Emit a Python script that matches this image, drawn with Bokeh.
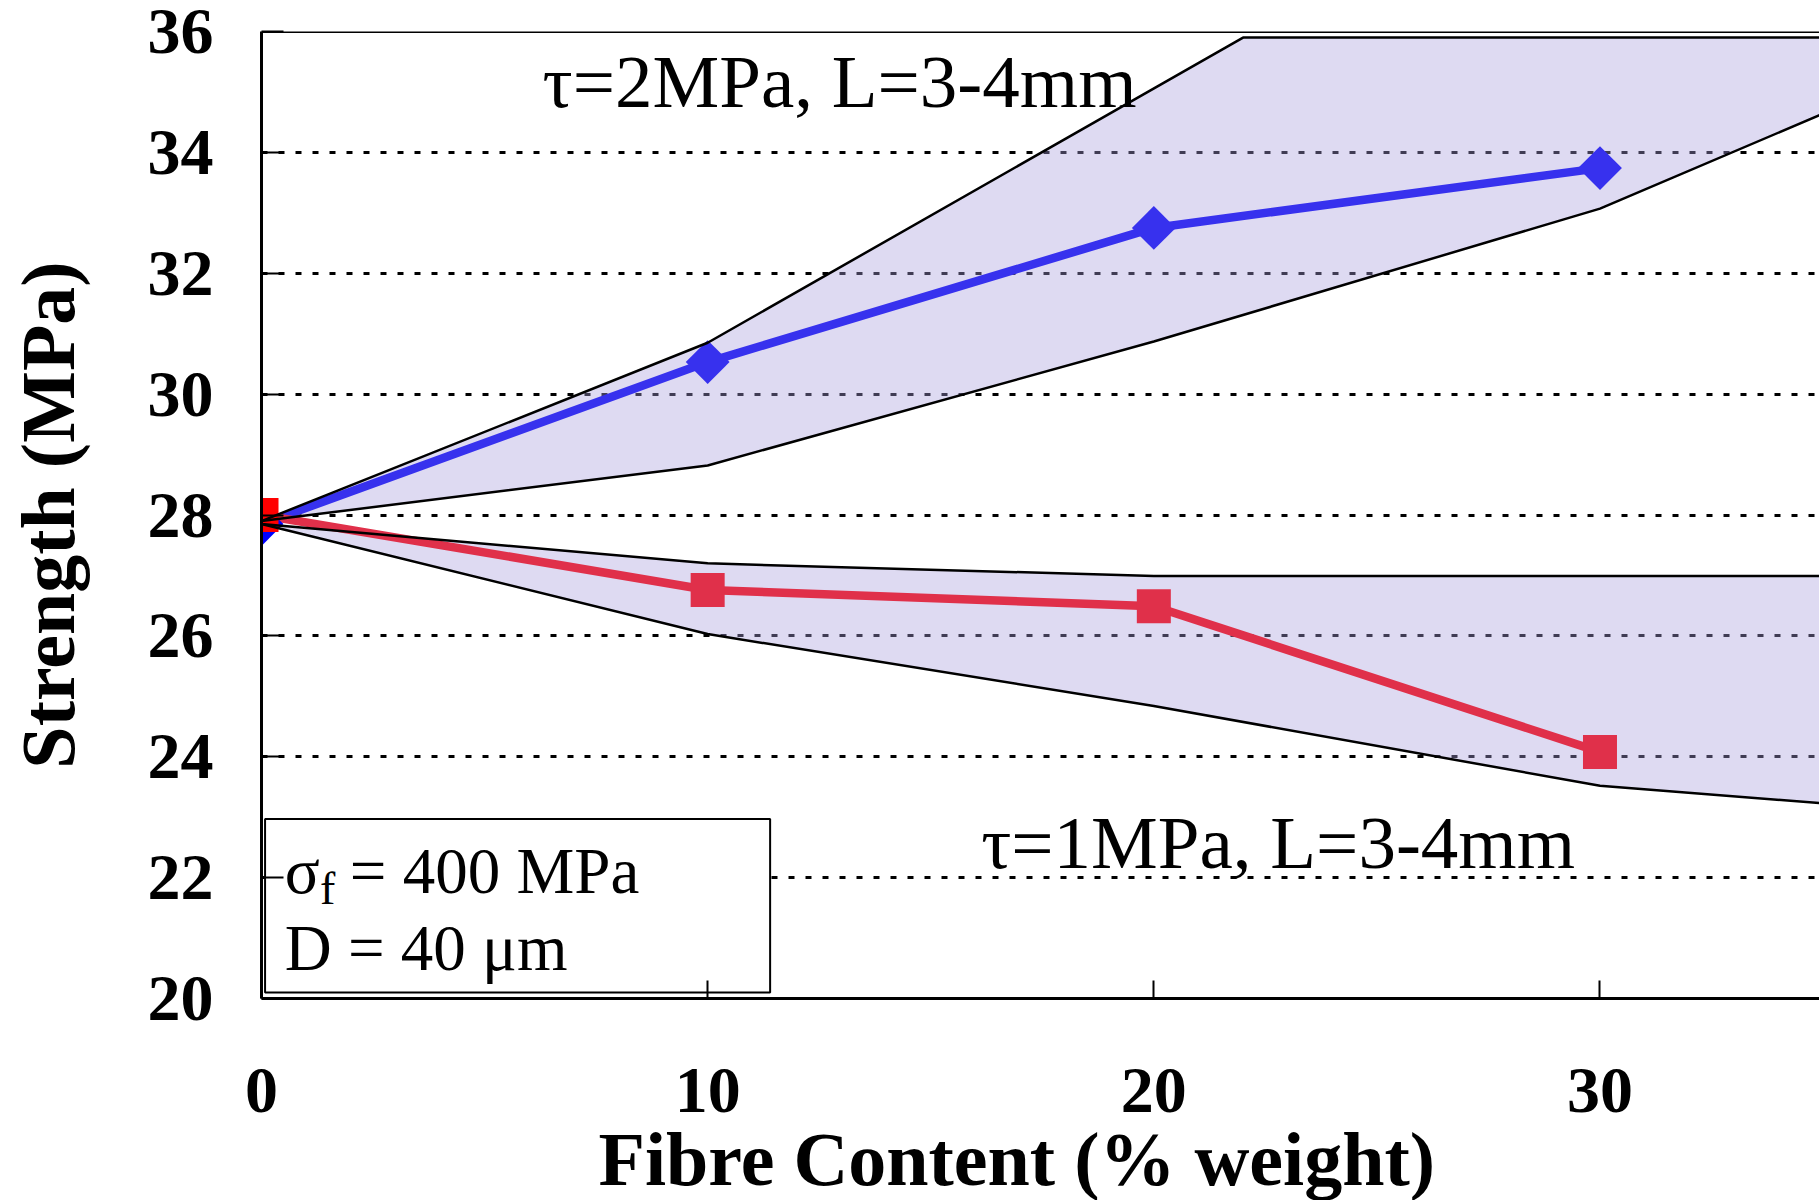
import math
from bokeh.plotting import figure
from bokeh.models import Range1d, FixedTicker, Span, Title
from bokeh.core.properties import value
from bokeh.embed import file_html
from bokeh.resources import INLINE

# ---------------- data ----------------
fibre = [0, 10, 20, 30]
strength_tau2 = [27.85, 30.53, 32.75, 33.74]
strength_tau1 = [28.0, 26.76, 26.49, 24.08]

band2_upper_x = [0, 10, 22, 35]
band2_upper_y = [27.9, 30.85, 35.9, 35.9]
band2_lower_x = [0, 10, 20, 30, 35]
band2_lower_y = [27.9, 28.82, 30.87, 33.07, 34.64]

band1_upper_x = [0, 10, 20, 35]
band1_upper_y = [27.85, 27.2, 26.99, 26.99]
band1_lower_x = [0, 10, 20, 30, 35]
band1_lower_y = [27.85, 26.03, 24.84, 23.52, 23.23]

y_ticks = [20, 22, 24, 26, 28, 30, 32, 34, 36]
x_ticks = [0, 10, 20, 30]

label_tau2 = "τ=2MPa, L=3-4mm"
label_tau1 = "τ=1MPa, L=3-4mm"
x_title = "Fibre Content (% weight)"
y_title = "Strength (MPa)"

SERIF = "Liberation Serif"
BLUE = "#3731EE"
RED = "#E0304A"

p = figure(width=1819, height=1200, output_backend="svg", toolbar_location=None,
           x_range=Range1d(0, 34.92), y_range=Range1d(20, 36),
           min_border_left=261, min_border_right=0, min_border_top=31,
           min_border_bottom=198)
p.outline_line_color = None
p.background_fill_color = "white"
p.border_fill_color = "white"

# grid
p.xgrid.visible = False
p.ygrid.ticker = FixedTicker(ticks=y_ticks)
p.ygrid.grid_line_color = "black"
p.ygrid.grid_line_width = 3
p.ygrid.grid_line_dash = "6 11"

# axes
for ax in (p.xaxis[0], p.yaxis[0]):
    ax.axis_line_width = 3
    ax.axis_line_color = "black"
    ax.major_tick_out = 0
    ax.minor_tick_line_color = None
    ax.major_tick_line_width = 2
    ax.major_label_text_font = SERIF
    ax.major_label_text_font_style = "bold"
    ax.major_label_text_font_size = "66px"
    ax.major_label_text_color = "black"
p.xaxis.ticker = FixedTicker(ticks=x_ticks)
p.yaxis.ticker = FixedTicker(ticks=y_ticks)
p.xaxis.major_tick_in = 18
p.yaxis.major_tick_in = 22
p.xaxis.major_label_standoff = 70
p.yaxis.major_label_standoff = 48

p.yaxis.axis_label = y_title
p.yaxis.axis_label_text_font = SERIF
p.yaxis.axis_label_text_font_style = "bold"
p.yaxis.axis_label_text_font_size = "76px"
p.yaxis.axis_label_text_color = "black"
p.yaxis.axis_label_standoff = 55

p.add_layout(Title(text=x_title, align="left", offset=337, text_font=SERIF,
                   text_font_style="bold", text_font_size="76px",
                   text_color="black", standoff=0), "below")

# top border
p.add_layout(Span(location=36, dimension="width", line_color="black", line_width=3))

# bands (fill)
fill_c = "#A99FDC"
p.patch(band2_upper_x + band2_lower_x[::-1], band2_upper_y + band2_lower_y[::-1],
        fill_color=fill_c, fill_alpha=0.38, line_color=None)
p.patch(band1_upper_x + band1_lower_x[::-1], band1_upper_y + band1_lower_y[::-1],
        fill_color=fill_c, fill_alpha=0.38, line_color=None)

# series lines
p.line(fibre, strength_tau2, line_color=BLUE, line_width=8.5)
p.line(fibre, strength_tau1, line_color=RED, line_width=8.5)

# markers
p.scatter(fibre[:1], strength_tau2[:1], marker="square", angle=math.pi / 4, size=31,
          fill_color="#0000FF", line_color=None)
p.scatter(fibre[1:], strength_tau2[1:], marker="square", angle=math.pi / 4, size=31,
          fill_color=BLUE, line_color=None)
p.scatter(fibre[:1], strength_tau1[:1], marker="square", size=34,
          fill_color="#FF0000", line_color=None)
p.scatter(fibre[1:], strength_tau1[1:], marker="square", size=34,
          fill_color=RED, line_color=None)

# band outlines
for xs, ys in ((band2_upper_x, band2_upper_y), (band2_lower_x, band2_lower_y),
               (band1_upper_x, band1_upper_y), (band1_lower_x, band1_lower_y)):
    p.line(xs, ys, line_color="black", line_width=2.5)

# annotations
p.text(x=[6.3], y=[35.18], text=[label_tau2], text_font=value(SERIF),
       text_font_size="75px", text_color="black", text_baseline="alphabetic")
p.text(x=[16.13], y=[22.58], text=[label_tau1], text_font=value(SERIF),
       text_font_size="75px", text_color="black", text_baseline="alphabetic")

# info box
p.quad(left=[0.08], right=[11.4], bottom=[20.1], top=[22.97],
       fill_color="white", line_color="black", line_width=2)
p.text(x=[0.52], y=[22.11], text=["σ"], text_font=value(SERIF),
       text_font_size="65px", text_color="black", text_baseline="alphabetic")
p.text(x=[1.31], y=[21.82], text=["f"], text_font=value(SERIF),
       text_font_size="46px", text_color="black", text_baseline="alphabetic")
p.text(x=[1.98], y=[22.11], text=["= 400 MPa"], text_font=value(SERIF),
       text_font_size="65px", text_color="black", text_baseline="alphabetic")
p.text(x=[0.52], y=[20.84], text=["D = 40 μm"], text_font=value(SERIF),
       text_font_size="65px", text_color="black", text_baseline="alphabetic")

open("out.html", "w").write(file_html(p, INLINE))
